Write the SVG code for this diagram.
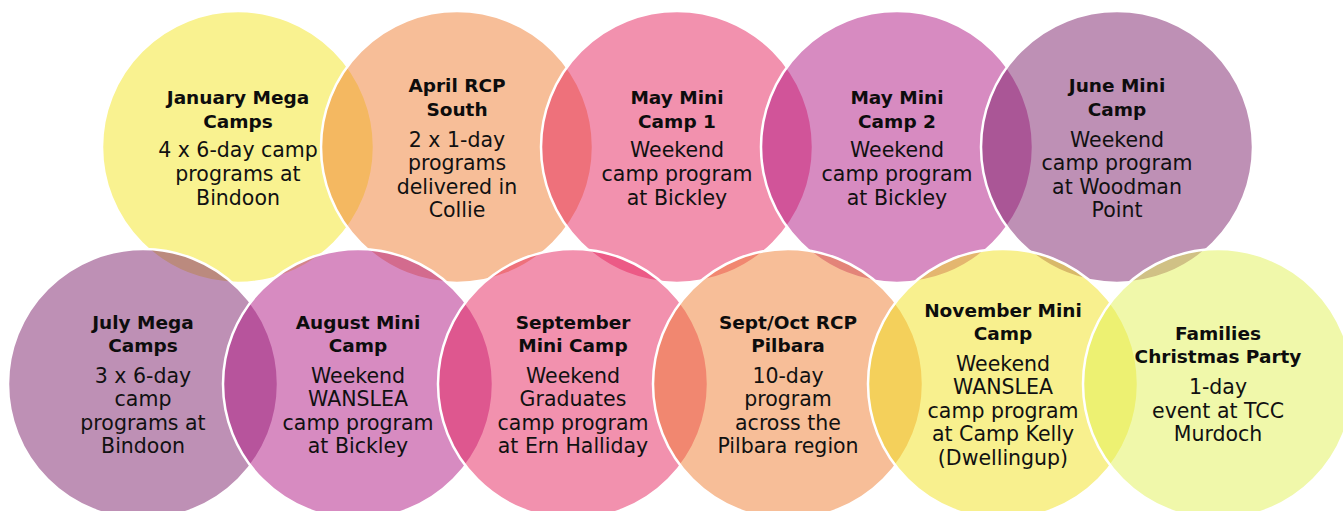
<svg xmlns="http://www.w3.org/2000/svg" width="1343" height="511" viewBox="0 0 1343 511">
<style>
.c{stroke:#fff;stroke-width:2.5;fill-opacity:0.5}
.t{font-family:"DejaVu Sans","Liberation Sans",sans-serif;font-weight:bold;font-size:18.5px;text-anchor:middle;fill:#0d0d0d}
.b{font-family:"DejaVu Sans","Liberation Sans",sans-serif;font-size:20.5px;text-anchor:middle;fill:#111}
</style>
<rect width="1343" height="511" fill="#fff"/>
<g id="node-january">
<circle class="c" cx="238" cy="147" r="136" fill="#F3E521"/>
<text class="t" x="238" y="104">January Mega</text>
<text class="t" x="238" y="128">Camps</text>
<text class="b" x="238" y="157">4 x 6-day camp</text>
<text class="b" x="238" y="181">programs at</text>
<text class="b" x="238" y="205">Bindoon</text>
</g>
<g id="node-april">
<circle class="c" cx="457" cy="147" r="136" fill="#EF7D31"/>
<text class="t" x="457" y="92">April RCP</text>
<text class="t" x="457" y="116">South</text>
<text class="b" x="457" y="147">2 x 1-day</text>
<text class="b" x="457" y="170">programs</text>
<text class="b" x="457" y="194">delivered in</text>
<text class="b" x="457" y="217">Collie</text>
</g>
<g id="node-may1">
<circle class="c" cx="677" cy="147" r="136" fill="#E5235D"/>
<text class="t" x="677" y="104">May Mini</text>
<text class="t" x="677" y="128">Camp 1</text>
<text class="b" x="677" y="157">Weekend</text>
<text class="b" x="677" y="181">camp program</text>
<text class="b" x="677" y="205">at Bickley</text>
</g>
<g id="node-may2">
<circle class="c" cx="897" cy="147" r="136" fill="#AF1783"/>
<text class="t" x="897" y="104">May Mini</text>
<text class="t" x="897" y="128">Camp 2</text>
<text class="b" x="897" y="157">Weekend</text>
<text class="b" x="897" y="181">camp program</text>
<text class="b" x="897" y="205">at Bickley</text>
</g>
<g id="node-june">
<circle class="c" cx="1117" cy="147" r="136" fill="#7D216B"/>
<text class="t" x="1117" y="92">June Mini</text>
<text class="t" x="1117" y="116">Camp</text>
<text class="b" x="1117" y="147">Weekend</text>
<text class="b" x="1117" y="170">camp program</text>
<text class="b" x="1117" y="194">at Woodman</text>
<text class="b" x="1117" y="217">Point</text>
</g>
<g id="node-july">
<circle class="c" cx="143" cy="384" r="135" fill="#7D216B"/>
<text class="t" x="143" y="329">July Mega</text>
<text class="t" x="143" y="352">Camps</text>
<text class="b" x="143" y="383">3 x 6-day</text>
<text class="b" x="143" y="406">camp</text>
<text class="b" x="143" y="430">programs at</text>
<text class="b" x="143" y="453">Bindoon</text>
</g>
<g id="node-august">
<circle class="c" cx="358" cy="384" r="135" fill="#AF1783"/>
<text class="t" x="358" y="329">August Mini</text>
<text class="t" x="358" y="352">Camp</text>
<text class="b" x="358" y="383">Weekend</text>
<text class="b" x="358" y="406">WANSLEA</text>
<text class="b" x="358" y="430">camp program</text>
<text class="b" x="358" y="453">at Bickley</text>
</g>
<g id="node-september">
<circle class="c" cx="573" cy="384" r="135" fill="#E5235D"/>
<text class="t" x="573" y="329">September</text>
<text class="t" x="573" y="352">Mini Camp</text>
<text class="b" x="573" y="383">Weekend</text>
<text class="b" x="573" y="406">Graduates</text>
<text class="b" x="573" y="430">camp program</text>
<text class="b" x="573" y="453">at Ern Halliday</text>
</g>
<g id="node-septoct">
<circle class="c" cx="788" cy="384" r="135" fill="#EF7D31"/>
<text class="t" x="788" y="329">Sept/Oct RCP</text>
<text class="t" x="788" y="352">Pilbara</text>
<text class="b" x="788" y="383">10-day</text>
<text class="b" x="788" y="406">program</text>
<text class="b" x="788" y="430">across the</text>
<text class="b" x="788" y="453">Pilbara region</text>
</g>
<g id="node-november">
<circle class="c" cx="1003" cy="384" r="135" fill="#F1E11D"/>
<text class="t" x="1003" y="317">November Mini</text>
<text class="t" x="1003" y="340">Camp</text>
<text class="b" x="1003" y="371">Weekend</text>
<text class="b" x="1003" y="394">WANSLEA</text>
<text class="b" x="1003" y="418">camp program</text>
<text class="b" x="1003" y="441">at Camp Kelly</text>
<text class="b" x="1003" y="465">(Dwellingup)</text>
</g>
<g id="node-families">
<circle class="c" cx="1218" cy="384" r="135" fill="#E1F155"/>
<text class="t" x="1218" y="340">Families</text>
<text class="t" x="1218" y="363">Christmas Party</text>
<text class="b" x="1218" y="394">1-day</text>
<text class="b" x="1218" y="418">event at TCC</text>
<text class="b" x="1218" y="441">Murdoch</text>
</g>
<g id="connectors"/>
</svg>
